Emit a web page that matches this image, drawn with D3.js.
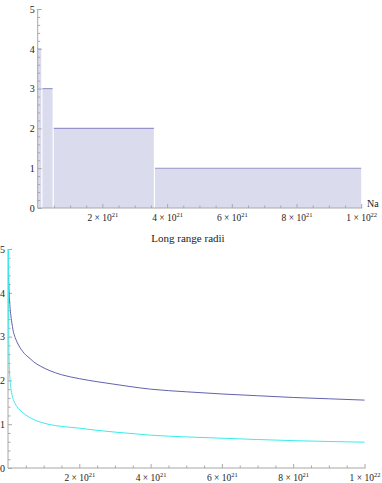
<!DOCTYPE html>
<html><head><meta charset="utf-8">
<script src="https://cdn.jsdelivr.net/npm/d3@7"></script>
<style>
html,body{margin:0;padding:0;background:#fff;}
svg text{font-family:"Liberation Serif","Times New Roman","DejaVu Serif",serif;fill:#222;}
</style></head>
<body>
<svg id="c" width="382" height="483"></svg>
<script>
// ---- data (x in units of 1e21) ----
const stepStarts = [0, 0.11, 0.46, 3.59];
const stepEnds   = [0.11, 0.46, 3.59, 10];
const stepValues = [4, 3, 2, 1];

const curveX      = [0.006, 0.012, 0.02, 0.035, 0.056, 0.08, 0.1, 0.149, 0.2, 0.25, 0.337, 0.5, 0.617, 0.71, 0.9, 1.18, 1.5, 2, 2.5, 3, 3.42, 4, 5, 6, 7, 8, 9, 10];
const outerRadius = [5.0, 4.6, 4.3, 3.95, 3.68, 3.48, 3.36, 3.12, 2.98, 2.88, 2.75, 2.58, 2.50, 2.43, 2.33, 2.22, 2.13, 2.04, 1.97, 1.91, 1.86, 1.80, 1.74, 1.69, 1.65, 1.61, 1.58, 1.55];
const cyanX       = [0.014, 0.02, 0.028, 0.04, 0.056, 0.08, 0.1, 0.149, 0.2, 0.25, 0.337, 0.5, 0.71, 0.9, 1.18, 1.5, 2, 2.5, 3, 3.42, 4, 5, 6, 7, 8, 9, 10];
const innerRadius = [5.0, 3.4, 2.6, 2.25, 2.02, 1.82, 1.72, 1.56, 1.47, 1.40, 1.32, 1.21, 1.11, 1.05, 0.99, 0.95, 0.91, 0.86, 0.82, 0.79, 0.75, 0.71, 0.68, 0.65, 0.625, 0.605, 0.59];

const xMajor = [2, 4, 6, 8, 10];
const xMantissa = ["2", "4", "6", "8", "1"];
const xExponent = ["21", "21", "21", "21", "22"];
const yMajor = [0, 1, 2, 3, 4, 5];
const title = "Long range radii";
const xAxisLabel = "Na";

const FONT = '"Liberation Serif","Times New Roman","DejaVu Serif",serif';
const svg = d3.select("#c").attr("font-family", FONT);
const axisColor = "#a8a8a8";

function minorX(){ const a=[]; for(let i=0;i<=20;i++){const v=i*0.5; if(!xMajor.includes(v)&&v>0) a.push(v);} return a; }
function minorY(){ const a=[]; for(let i=0;i<=25;i++){const v=+(i*0.2).toFixed(2); if(!yMajor.includes(v)) a.push(v);} return a; }

function drawAxes(g, x, y, yLabelPad){
  // x axis
  const gx = g.append("g").attr("transform", `translate(0,${y(0)})`);
  gx.call(d3.axisBottom(x).tickValues(xMajor).tickSize(-4).tickPadding(3).tickFormat(() => ""));
  const gxm = gx.append("g").call(d3.axisBottom(x).tickValues(minorX()).tickSize(-2.5).tickFormat(() => ""));
  gx.selectAll(".domain").remove();
  gx.append("line").attr("x1", x(0)).attr("x2", x(10)+1).attr("stroke", axisColor);
  gx.selectAll(".tick line").attr("stroke", axisColor);
  gxm.selectAll(".tick text").remove();
  gx.selectAll(":scope > .tick text").each(function(d, i){
    const t = d3.select(this).attr("font-size", 9.5).attr("dy", null).attr("y", 12.5).attr("text-anchor","middle");
    t.text(null);
    t.append("tspan").text(xMantissa[i] + " \u00d7 10");
    t.append("tspan").attr("font-size", 6.5).attr("dy", -4).text(xExponent[i]);
  });
  // y axis
  const gy = g.append("g").attr("transform", `translate(${x(0)},0)`);
  gy.call(d3.axisLeft(y).tickValues(yMajor).tickSize(-4).tickPadding(yLabelPad).tickFormat(d3.format("d")));
  const gym = gy.append("g").call(d3.axisLeft(y).tickValues(minorY()).tickSize(-2.5).tickFormat(() => ""));
  gy.selectAll(".domain").remove();
  gy.append("line").attr("y1", y(0)).attr("y2", y(5)).attr("stroke", axisColor);
  gy.selectAll(".tick line").attr("stroke", axisColor);
  gym.selectAll(".tick text").remove();
  gy.selectAll(".tick text").attr("font-size", 10);
  g.selectAll("g").attr("font-family", FONT);
}

// ---- top chart ----
const xT = d3.scaleLinear().domain([0, 10]).range([37.7, 361.2]);
const yT = d3.scaleLinear().domain([0, 5]).range([208, 9]);
const gTop = svg.append("g");
const steps = stepValues.map((v, i) => ({x0: stepStarts[i], x1: stepEnds[i], v}));
gTop.selectAll("rect.step").data(steps).join("rect")
  .attr("x", (d, i) => xT(d.x0) + (i > 0 ? 1.2 : 0))
  .attr("y", d => yT(d.v))
  .attr("width", (d, i) => xT(d.x1) - xT(d.x0) - (i > 0 ? 1.2 : 0))
  .attr("height", d => yT(0) - yT(d.v))
  .attr("fill", "#dbdbee");
gTop.selectAll("line.steptop").data(steps).join("line")
  .attr("x1", (d, i) => xT(d.x0) + (i > 0 ? 1.2 : 0))
  .attr("x2", d => xT(d.x1))
  .attr("y1", d => yT(d.v)).attr("y2", d => yT(d.v))
  .attr("stroke", (d,i) => i === 0 ? "#c4c4e2" : "#9494ca").attr("stroke-width", 1.1);
drawAxes(gTop, xT, yT, 3);
gTop.append("text").attr("x", 367).attr("y", 207).attr("font-size", 10).text(xAxisLabel);

// ---- bottom chart ----
const xB = d3.scaleLinear().domain([0, 10]).range([8, 364.5]);
const yB = d3.scaleLinear().domain([0, 5]).range([468, 249]);
const gBot = svg.append("g");
gBot.append("text").attr("x", 188).attr("y", 242).attr("text-anchor", "middle").attr("font-size", 11).text(title);
svg.append("clipPath").attr("id", "cb").append("rect")
  .attr("x", xB(0)).attr("y", yB(5)).attr("width", xB(10) - xB(0) + 1).attr("height", yB(0) - yB(5));
drawAxes(gBot, xB, yB, 3);
const line = d3.line().curve(d3.curveMonotoneX);
gBot.append("path").attr("clip-path", "url(#cb)")
  .attr("d", line(curveX.map((v, i) => [xB(v), yB(outerRadius[i])])))
  .attr("fill", "none").attr("stroke", "#6262b0").attr("stroke-width", 1);
gBot.append("path").attr("clip-path", "url(#cb)")
  .attr("d", line(cyanX.map((v, i) => [xB(v), yB(innerRadius[i])])))
  .attr("fill", "none").attr("stroke", "#38ecec").attr("stroke-width", 1);
</script>
</body></html>
